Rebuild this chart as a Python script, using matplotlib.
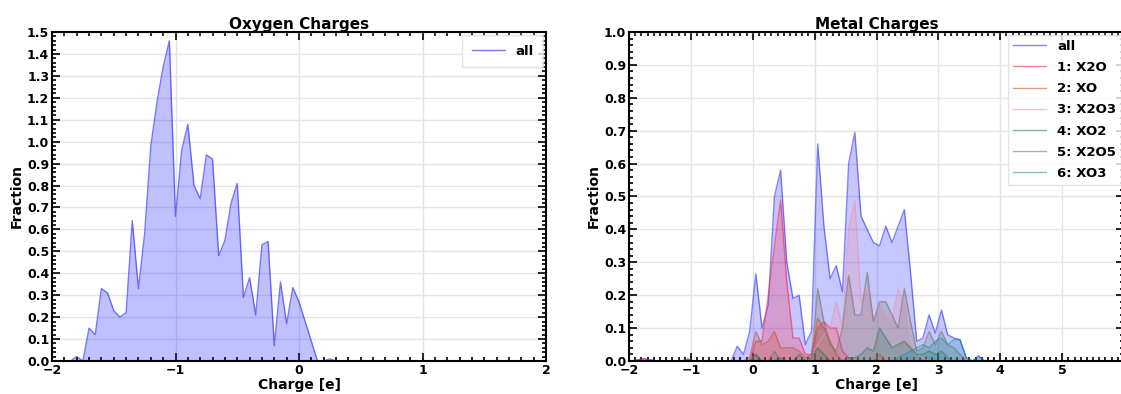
import numpy as np
import matplotlib
matplotlib.use("Agg")
import matplotlib.pyplot as plt
from matplotlib.ticker import MultipleLocator

# ---- oxygen charges (left panel) ----
oxy_charge = [-1.85, -1.80, -1.75, -1.70, -1.65, -1.60, -1.55, -1.50, -1.45, -1.40,
              -1.35, -1.30, -1.25, -1.20, -1.15, -1.10, -1.05, -1.00, -0.95, -0.90,
              -0.85, -0.80, -0.75, -0.70, -0.65, -0.60, -0.55, -0.50, -0.45, -0.40,
              -0.35, -0.30, -0.25, -0.20, -0.15, -0.10, -0.05, 0.00, 0.05, 0.10,
              0.15, 0.20, 0.25, 0.30]
oxy_all = [0.00, 0.02, 0.00, 0.15, 0.12, 0.33, 0.31, 0.23, 0.20, 0.22,
           0.64, 0.33, 0.58, 0.98, 1.18, 1.34, 1.46, 0.66, 0.96, 1.08,
           0.80, 0.74, 0.94, 0.92, 0.48, 0.55, 0.72, 0.81, 0.29, 0.38,
           0.21, 0.53, 0.545, 0.07, 0.36, 0.17, 0.335, 0.27, 0.18, 0.09,
           0.00, 0.00, 0.01, 0.00]

# ---- metal charges (right panel), bin centres -1.95 ... 3.95 ----
metal_charge = [-1.95, -1.85, -1.75, -1.65, -1.55, -1.45, -1.35, -1.25, -1.15, -1.05,
                -0.95, -0.85, -0.75, -0.65, -0.55, -0.45, -0.35, -0.25, -0.15, -0.05,
                0.05, 0.15, 0.25, 0.35, 0.45, 0.55, 0.65, 0.75, 0.85, 0.95,
                1.05, 1.15, 1.25, 1.35, 1.45, 1.55, 1.65, 1.75, 1.85, 1.95,
                2.05, 2.15, 2.25, 2.35, 2.45, 2.55, 2.65, 2.75, 2.85, 2.95,
                3.05, 3.15, 3.25, 3.35, 3.45, 3.55, 3.65, 3.75, 3.85, 3.95]
metal_all = [0, 0.004, 0.007, 0.003, 0, 0, 0, 0, 0, 0.006,
             0, 0, 0, 0, 0, 0, 0, 0.045, 0.02, 0.09,
             0.265, 0.10, 0.17, 0.50, 0.58, 0.30, 0.19, 0.20, 0.05, 0.09,
             0.66, 0.41, 0.25, 0.29, 0.21, 0.60, 0.695, 0.44, 0.40, 0.36,
             0.35, 0.41, 0.36, 0.41, 0.46, 0.27, 0.06, 0.07, 0.14, 0.085,
             0.155, 0.08, 0.07, 0.065, 0.01, 0.0, 0.015, 0.0, 0, 0]
x2o = [0, 0.004, 0.006, 0.003, 0, 0, 0, 0, 0, 0.005,
       0, 0, 0, 0, 0, 0, 0, 0, 0, 0.0,
       0.06, 0.06, 0.20, 0.35, 0.49, 0.24, 0.07, 0.07, 0.02, 0.02,
       0.10, 0.12, 0.10, 0.10, 0.03, 0.01, 0, 0, 0, 0,
       0, 0, 0, 0, 0, 0, 0, 0, 0, 0,
       0, 0, 0, 0, 0, 0, 0, 0, 0, 0]
xo = [0, 0, 0, 0, 0, 0, 0, 0, 0, 0,
      0, 0, 0, 0, 0, 0, 0, 0, 0, 0.01,
      0.09, 0.05, 0.06, 0.09, 0.04, 0.04, 0.04, 0.03, 0.01, 0.02,
      0.13, 0.10, 0.06, 0.02, 0.0, 0, 0, 0, 0, 0,
      0.02, 0, 0, 0, 0, 0, 0, 0, 0, 0,
      0, 0, 0, 0, 0, 0, 0, 0, 0, 0]
x2o3 = [0, 0, 0, 0, 0, 0, 0, 0, 0, 0,
        0, 0, 0, 0, 0, 0, 0, 0, 0, 0,
        0, 0, 0, 0, 0, 0, 0, 0, 0, 0.01,
        0.05, 0.08, 0.10, 0.18, 0.10, 0.40, 0.49, 0.18, 0.22, 0.12,
        0.17, 0.14, 0.12, 0.22, 0.17, 0.05, 0.02, 0.01, 0, 0,
        0, 0, 0, 0, 0, 0, 0, 0, 0, 0]
xo2 = [0, 0, 0, 0, 0, 0, 0, 0, 0, 0,
       0, 0, 0, 0, 0, 0, 0, 0, 0, 0,
       0.02, 0, 0, 0, 0.01, 0, 0, 0.02, 0, 0.01,
       0.04, 0.02, 0, 0, 0, 0.01, 0.01, 0.02, 0.04, 0.03,
       0.10, 0.07, 0.04, 0.05, 0.06, 0.04, 0.02, 0.02, 0.03, 0.02,
       0.03, 0.01, 0, 0, 0, 0, 0, 0, 0, 0]
x2o5 = [0, 0, 0, 0, 0, 0, 0, 0, 0, 0,
        0, 0, 0, 0, 0, 0, 0, 0, 0, 0,
        0.02, 0, 0, 0.03, 0, 0, 0, 0, 0, 0.01,
        0.22, 0.12, 0.05, 0.03, 0.10, 0.26, 0.14, 0.14, 0.27, 0.12,
        0.18, 0.18, 0.14, 0.10, 0.22, 0.12, 0.03, 0.04, 0.09, 0.05,
        0.09, 0.05, 0.04, 0.02, 0, 0, 0, 0, 0, 0]
xo3 = [0, 0, 0, 0, 0, 0, 0, 0, 0, 0,
       0, 0, 0, 0, 0, 0, 0, 0, 0, 0,
       0, 0, 0, 0, 0, 0, 0, 0, 0, 0,
       0, 0, 0, 0, 0, 0, 0, 0, 0, 0,
       0, 0, 0, 0.01, 0.02, 0.03, 0.04, 0.05, 0.04, 0.06,
       0.07, 0.05, 0.065, 0.065, 0.01, 0.0, 0.015, 0, 0, 0]

metal_series = [
    ("all", metal_all, "#2020ff"),
    ("1: X2O", x2o, "#ff2040"),
    ("2: XO", xo, "#c85020"),
    ("3: X2O3", x2o3, "#f090a0"),
    ("4: XO2", xo2, "#208050"),
    ("5: X2O5", x2o5, "#707060"),
    ("6: XO3", xo3, "#1090a0"),
]

plt.rcParams["font.family"] = "DejaVu Sans"
plt.rcParams["font.weight"] = "bold"
plt.rcParams["axes.labelweight"] = "bold"
plt.rcParams["axes.titleweight"] = "bold"


def style(ax, ymax, ystep):
    ax.set_axisbelow(True)
    ax.set_ylim(0, ymax)
    ax.yaxis.set_major_locator(MultipleLocator(ystep))
    ax.yaxis.set_minor_locator(MultipleLocator(ystep / 5))
    ax.xaxis.set_minor_locator(MultipleLocator(0.1))
    ax.tick_params(which="both", direction="in", top=True, right=True,
                   labelsize=9, width=1.2)
    ax.tick_params(which="major", length=6, pad=2)
    ax.tick_params(which="minor", length=3)
    ax.grid(True, color="#e4e4e4", linewidth=1)
    for s in ax.spines.values():
        s.set_linewidth(1.5)
    ax.set_xlabel("Charge [e]", fontsize=10, labelpad=1)
    ax.set_ylabel("Fraction", fontsize=10, labelpad=2)


fig = plt.figure(figsize=(11.21, 3.94), dpi=100)
ax1 = fig.add_axes([52 / 1121, 33 / 394, 494 / 1121, 329 / 394])
ax2 = fig.add_axes([629 / 1121, 33 / 394, 495 / 1121, 329 / 394])

ax1.plot(oxy_charge, oxy_all, color="#2020ff", alpha=0.6, lw=1, label="all")
ax1.fill_between(oxy_charge, oxy_all, color="#2020ff", alpha=0.28, lw=0)
ax1.set_xlim(-2, 2)
ax1.set_xticks([-2, -1, 0, 1, 2])
style(ax1, 1.5, 0.1)
ax1.set_title("Oxygen Charges", fontsize=11, pad=2)
ax1.legend(loc="upper right", fontsize=9.5, frameon=True, edgecolor="#dddddd",
           fancybox=False, handlelength=2.5, borderaxespad=0.25, borderpad=0.7)

for label, vals, col in metal_series:
    ax2.plot(metal_charge, vals, color=col, alpha=0.55, lw=1, label=label)
    ax2.fill_between(metal_charge, vals, color=col, alpha=0.25, lw=0)
ax2.set_xlim(-2, 6)
# the 6 label falls outside the picture in the original
ax2.set_xticks([-2, -1, 0, 1, 2, 3, 4, 5])
style(ax2, 1.0, 0.1)
ax2.set_title("Metal Charges", fontsize=11, pad=2)
ax2.legend(loc="upper right", fontsize=9.5, frameon=True, edgecolor="#dddddd",
           fancybox=False, handlelength=2.5, borderaxespad=0.2,
           labelspacing=0.62)

fig.savefig("out.png", dpi=100)
